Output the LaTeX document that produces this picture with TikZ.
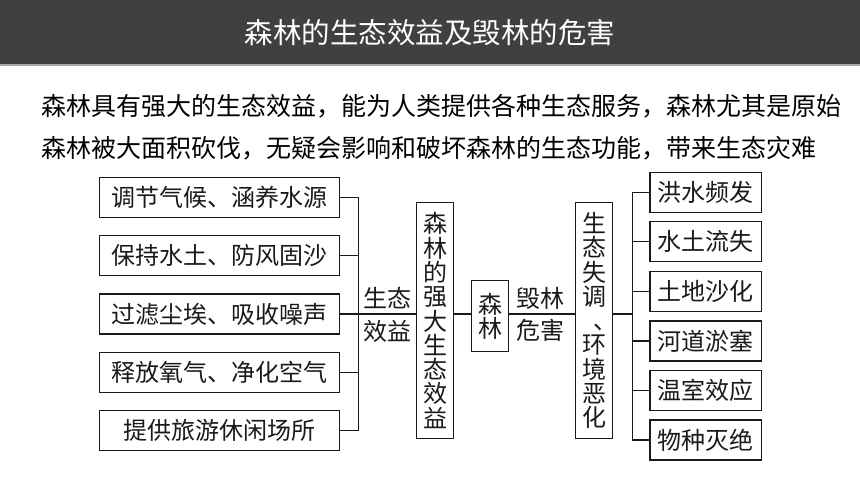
\documentclass[tikz,border=0pt]{standalone}
\usepackage{fontspec}
\setmainfont{Noto Sans CJK SC}
\definecolor{barcol}{HTML}{404040}
\definecolor{barline}{HTML}{A6A6A6}
\definecolor{ink}{HTML}{1A1A1A}
\begin{document}
\begin{tikzpicture}[x=1pt,y=-1pt,
  lbox/.style={draw=ink, line width=1.2pt, minimum width=240pt, minimum height=40pt, inner sep=0pt, text=ink, font=\fontsize{24}{24}\selectfont},
  rbox/.style={draw=ink, line width=1.2pt, minimum width=111.7pt, minimum height=40pt, inner sep=0pt, text=ink, font=\fontsize{24}{24}\selectfont},
  tbox/.style={draw=ink, line width=1.2pt, minimum width=36.6pt, minimum height=235.6pt, inner sep=0pt, align=center, text=ink, font=\fontsize{24}{24.3}\selectfont},
  sbox/.style={draw=ink, line width=1.2pt, minimum width=36.6pt, minimum height=71pt, inner sep=0pt, align=center, text=ink, font=\fontsize{24}{24.3}\selectfont},
  lbl/.style={inner sep=0pt, text=ink, font=\fontsize{24}{24}\selectfont},
  conn/.style={draw=ink, line width=1.2pt},
  para/.style={anchor=west, inner sep=0pt, text=black, font=\fontsize{25}{25}\selectfont}
]
\useasboundingbox (0,0) rectangle (860,484);
\fill[white] (0,0) rectangle (860,484);
% title bar
\fill[barcol] (0,0) rectangle (860,64.5);
\fill[barline] (0,64.5) rectangle (860,66.5);
\node[text=white, inner sep=0pt, font=\fontsize{28.5}{28.5}\selectfont] (title) at (430,33) {森林的生态效益及毁林的危害};
% paragraph
\node[para] (p1) at (41,106) {森林具有强大的生态效益，能为人类提供各种生态服务，森林尤其是原始};
\node[para] (p2) at (41,148) {森林被大面积砍伐，无疑会影响和破坏森林的生态功能，带来生态灾难};
% left boxes
\node[lbox] (L1) at (219.3,197.3) {调节气候、涵养水源};
\node[lbox] (L2) at (219.3,255.65) {保持水土、防风固沙};
\node[lbox] (L3) at (219.3,314.0) {过滤尘埃、吸收噪声};
\node[lbox] (L4) at (219.3,372.35) {释放氧气、净化空气};
\node[lbox] (L5) at (219.3,430.7) {提供旅游休闲场所};
% center
\node[tbox] (T1) at (435,320.5) {森\\林\\的\\强\\大\\生\\态\\效\\益};
\node[sbox] (S) at (490,316.2) {森\\林};
\node[tbox] (T2) at (594,320.5) {生\\态\\失\\调\\\makebox[24pt][l]{\hspace*{11pt}、}\\环\\境\\恶\\化};
% right boxes
\node[rbox] (R1) at (705.8,192.3) {洪水频发};
\node[rbox] (R2) at (705.8,241.84) {水土流失};
\node[rbox] (R3) at (705.8,291.38) {土地沙化};
\node[rbox] (R4) at (705.8,340.92) {河道淤塞};
\node[rbox] (R5) at (705.8,390.46) {温室效应};
\node[rbox] (R6) at (705.8,440.0) {物种灭绝};
% labels
\node[lbl] (la1) at (387,298) {生态};
\node[lbl] (la2) at (387,331.5) {效益};
\node[lbl] (lb1) at (540,298) {毁林};
\node[lbl] (lb2) at (540,330) {危害};
% junctions
\coordinate (jL) at (358.3,314.0);
\coordinate (jR) at (632.3,314.0);
% connectors
\draw[conn] (L1.east) -| (jL) |- (L5.east);
\draw[conn] (L2.east) -- (L2.east -| jL);
\draw[conn] (L4.east) -- (L4.east -| jL);
\draw[conn] (L3.east) -- (L3.east -| T1.west);
\draw[conn] (T1.east |- jL) -- (S.west |- jL);
\draw[conn] (S.east |- jL) -- (T2.west |- jL);
\draw[conn] (T2.east |- jR) -- (jR);
\draw[conn] (R1.west) -| (jR) |- (R6.west);
\draw[conn] (R2.west) -- (R2.west -| jR);
\draw[conn] (R3.west) -- (R3.west -| jR);
\draw[conn] (R4.west) -- (R4.west -| jR);
\draw[conn] (R5.west) -- (R5.west -| jR);
\end{tikzpicture}
\end{document}
